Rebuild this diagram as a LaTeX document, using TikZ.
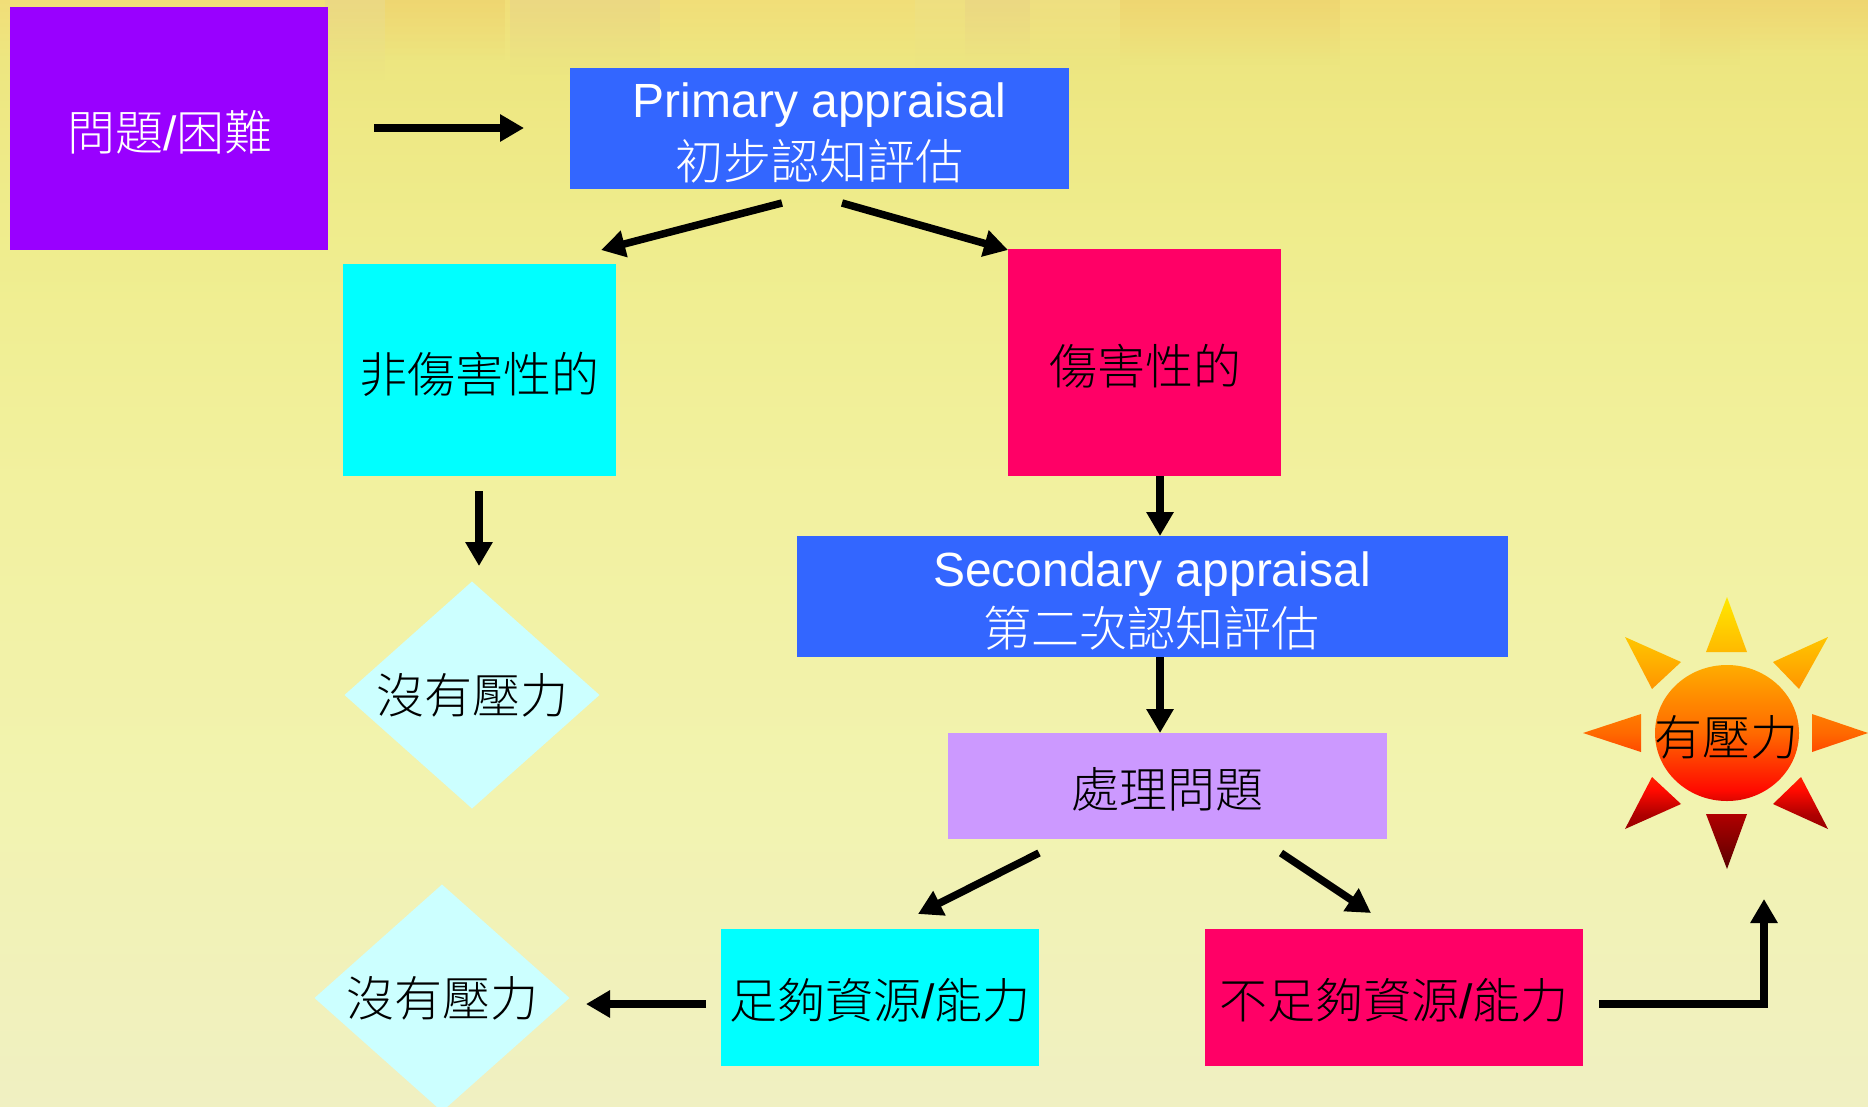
\documentclass[tikz,border=0pt]{standalone}
\usepackage{fontspec}
\setmainfont{Liberation Sans}
\newfontfamily\cjk{Noto Sans CJK TC Light}
\usetikzlibrary{arrows.meta,shapes.geometric,fadings}
\definecolor{bg0}{RGB}{241,222,120}
\definecolor{bg1}{RGB}{237,230,128}
\definecolor{bg2}{RGB}{239,237,142}
\definecolor{bg3}{RGB}{242,241,160}
\definecolor{bg4}{RGB}{242,243,176}
\definecolor{bg5}{RGB}{240,240,194}
\pgfdeclareverticalshading{bgshade}{100bp}{
  color(0bp)=(bg5); color(25bp)=(bg5); color(38.8bp)=(bg4); color(52.4bp)=(bg3);
  color(63.7bp)=(bg2); color(72.3bp)=(bg1); color(75bp)=(bg0); color(100bp)=(bg0)}
\definecolor{sun0}{RGB}{255,232,0}
\definecolor{sun1}{RGB}{255,185,0}
\definecolor{sun2}{RGB}{255,105,0}
\definecolor{sun3}{RGB}{255,10,0}
\definecolor{sun4}{RGB}{175,0,0}
\definecolor{sun5}{RGB}{90,0,0}
\pgfdeclareverticalshading{sunshade}{100bp}{
  color(0bp)=(sun5); color(25bp)=(sun5); color(35bp)=(sun4); color(39.5bp)=(sun3);
  color(50bp)=(sun2); color(65bp)=(sun1); color(75bp)=(sun0); color(100bp)=(sun0)}
\definecolor{diacol}{RGB}{204,255,255}
\definecolor{purple1}{RGB}{153,0,255}
\definecolor{blue1}{RGB}{51,102,255}
\definecolor{cyan1}{RGB}{0,255,255}
\definecolor{crim}{RGB}{255,0,102}
\definecolor{lilac}{RGB}{204,153,255}
\definecolor{tan1}{RGB}{225,205,150}
\definecolor{org1}{RGB}{235,200,100}
\newcommand{\slashch}{{\rmfamily/}}
\tikzset{
  x=1pt,y=-1pt,
  box/.style={rectangle,inner sep=0pt,outer sep=0pt,text=black},
  cjktext/.style={inner sep=0pt,font=\fontsize{48}{58}\selectfont\cjk},
  lat/.style={inner sep=0pt,text=white,font=\fontsize{48}{58}\selectfont},
  dia/.style={diamond,fill=diacol,aspect=1.123,minimum width=255pt,minimum height=227pt,inner sep=0pt,outer sep=0pt,font=\fontsize{48}{58}\selectfont\cjk,text=black},
  link/.style={line width=7.5pt,draw=black,-{Triangle[length=24pt,width=26pt]}},
  strip/.style={path fading=south,opacity=.35},
}
\begin{document}
\begin{tikzpicture}
\useasboundingbox (0,0) rectangle (1868,1106);
\begin{scope}
\clip (0,0) rectangle (1868,1106);
\shade[shading=bgshade] (0,0) rectangle (1868,1106);
% mottled upper band
\fill[tan1,strip] (325,0) rectangle (385,80);
\fill[org1,strip] (385,0) rectangle (505,60);
\fill[tan1,strip] (510,0) rectangle (660,75);
\fill[bg2!70!tan1,strip] (915,0) rectangle (965,70);
\fill[tan1,strip] (965,0) rectangle (1030,70);
\fill[bg2!70!tan1,strip] (1030,0) rectangle (1120,70);
\fill[org1,strip] (1120,0) rectangle (1340,65);
\fill[org1,strip] (1660,0) rectangle (1740,65);
\fill[org1,strip] (1740,0) rectangle (1868,50);

\node[box,fill=purple1,minimum width=318pt,minimum height=243pt] (prob) at (169,128.5) {};
\node[cjktext,text=white] (probt) at (170,132) {問題\slashch 困難};
\node[box,fill=blue1,minimum width=499pt,minimum height=121pt] (prim) at (819.5,128.5) {};
\node[lat] (primt) at (819.5,105) {Primary appraisal};
\node[cjktext,text=white] (primc) at (819.5,161) {初步認知評估};
\node[box,fill=cyan1,minimum width=273pt,minimum height=212pt] (nonh) at (479.5,370) {};
\node[cjktext] (nonht) at (479.5,374) {非傷害性的};
\node[box,fill=crim,minimum width=273pt,minimum height=227pt] (harm) at (1144.5,362.5) {};
\node[cjktext] (harmt) at (1145,366) {傷害性的};
\node[box,fill=blue1,minimum width=711pt,minimum height=121pt] (sec) at (1152.5,596.5) {};
\node[lat] (sect) at (1152,574) {Secondary appraisal};
\node[cjktext,text=white] (secc) at (1151,628) {第二次認知評估};
\node[box,fill=lilac,minimum width=439pt,minimum height=106pt] (cope) at (1167.5,786) {};
\node[cjktext] (copet) at (1167,789) {處理問題};
\node[box,fill=cyan1,minimum width=318pt,minimum height=137pt] (enough) at (880,997) {};
\node[cjktext] (enought) at (880,1000) {足夠資源\slashch 能力};
\node[box,fill=crim,minimum width=378pt,minimum height=137pt] (lack) at (1394,997) {};
\node[cjktext] (lackt) at (1394,1000) {不足夠資源\slashch 能力};
\node[dia] (d1) at (472,695) {沒有壓力};
\node[dia] (d2) at (442,998) {沒有壓力};

% sun
\shade[shading=sunshade]
  (1727,597) -- (1747,652) -- (1706,652) -- cycle
  (1828,637) -- (1799,689) -- (1773,662) -- cycle
  (1625,637) -- (1681,662) -- (1652,689) -- cycle
  (1868,733) -- (1812,752) -- (1812,714) -- cycle
  (1583,733) -- (1641,714) -- (1641,752) -- cycle
  (1828,829) -- (1773,804) -- (1801,777) -- cycle
  (1625,829) -- (1652,777) -- (1681,804) -- cycle
  (1727,869) -- (1706,814) -- (1747,814) -- cycle
  (1655,733) arc[start angle=180,end angle=540,x radius=72,y radius=-68];
\node[cjktext] (sun) at (1726,737) {有壓力};

% free ends of the connectors
\coordinate (a1s) at (374,128); \coordinate (a1e) at (524,128);
\coordinate (a2s) at (782,203); \coordinate (a2e) at (601,250);
\coordinate (a3s) at (842,203); \coordinate (a3e) at (1008,250);
\coordinate (a4s) at (479,491); \coordinate (a4e) at (479,566);
\coordinate (a7s) at (1039,853); \coordinate (a7e) at (918,914);
\coordinate (a8s) at (1281,853); \coordinate (a8e) at (1371,913);
\coordinate (a9s) at (706,1004); \coordinate (a9e) at (586,1004);
\coordinate (a10s) at (1599,1004); \coordinate (a10c) at (1764,1004); \coordinate (a10e) at (1764,899);

\draw[link] (a1s) -- (a1e);
\draw[link] (a2s) -- (a2e);
\draw[link] (a3s) -- (a3e);
\draw[link] (a4s) -- (a4e);
\draw[link] (harm.south -| 1160,0) -- (sec.north -| 1160,0);
\draw[link] (sec.south -| 1160,0) -- (cope.north -| 1160,0);
\draw[link] (a7s) -- (a7e);
\draw[link] (a8s) -- (a8e);
\draw[link] (a9s) -- (a9e);
\draw[link] (a10s) -- (a10c) -- (a10e);
\end{scope}
\end{tikzpicture}
\end{document}
